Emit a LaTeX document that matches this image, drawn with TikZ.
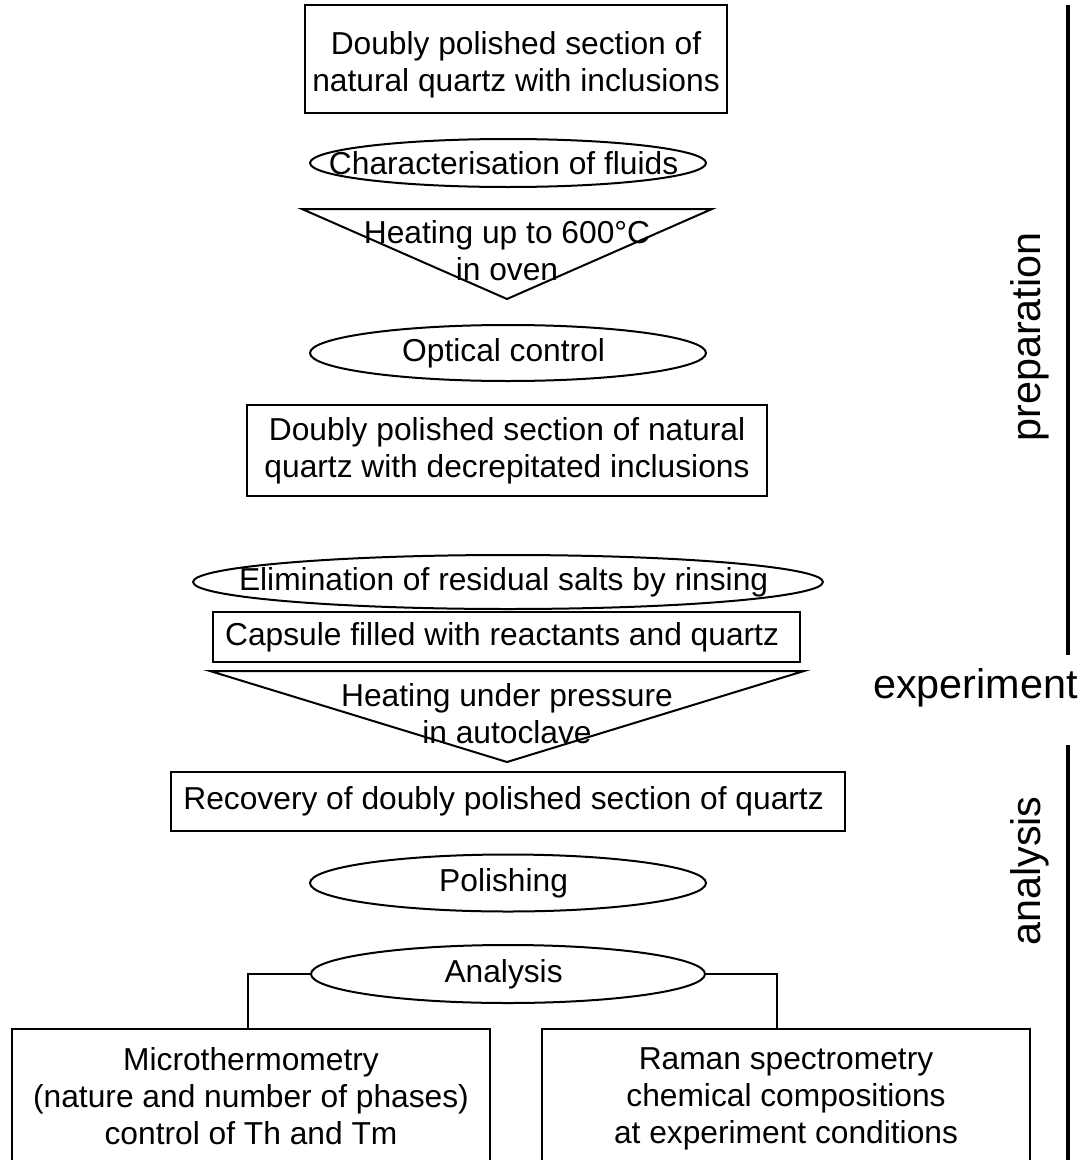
\documentclass[tikz,border=0pt]{standalone}
\usepackage{fontspec}
\setmainfont{Liberation Sans}
\usetikzlibrary{shapes}
\usetikzlibrary{positioning}
\tikzset{flowbox/.style={rectangle,
                        draw,
                        line width=1.5pt,
                        align=center,
                        inner sep=0pt,
                        font=\fontsize{23.8pt}{27.75pt}\selectfont
                        },
        flowoval/.style={ellipse,
                        draw,
                        line width=1.5pt,
                        align=center,
                        inner sep=0pt,
                        minimum width=297pt,
                        font=\fontsize{23.8pt}{27.75pt}\selectfont
        },
        flowtext/.style={align=center,
                        inner sep=0pt,
                        font=\fontsize{23.8pt}{27.75pt}\selectfont
        },
        phaselabel/.style={inner sep=0pt,
                        font=\fontsize{31pt}{34pt}\selectfont
        },
}

\begin{document}
\begin{tikzpicture}
    [x=0.75pt,y=-0.75pt]

    \useasboundingbox (0,0) rectangle (1082,1160);

    % PREPARATION
    \node[flowbox, minimum width=316.5pt, minimum height=81pt] (section) at (516,59) {
        \rule{0pt}{26pt}Doubly polished section of\\ natural quartz with inclusions
    };

    \node[flowoval, minimum height=36pt] (fluids) at (508,163) {
        \makebox[0pt]{Characterisation of fluids}
    };

    \draw[line width=1.5pt, line join=miter] (302,209) coordinate (ovenL) -- (712,209) coordinate (ovenR)
        -- (507,299) coordinate (ovenT) -- cycle;
    \node[flowtext] (oven) at (507,251) {Heating up to 600°C\\ in oven};

    \node[flowoval, minimum height=42pt] (optical) at (508,353) {
        \makebox[0pt]{Optical control}
    };

    \node[flowbox, minimum width=390pt, minimum height=68.25pt] (decrep) at (507,450.5) {
        Doubly polished section of natural\\ quartz with decrepitated inclusions
    };

    \node[flowoval, minimum width=472.5pt, minimum height=40.5pt] (rinsing) at (508,582) {
        \makebox[0pt]{Elimination of residual salts by rinsing}
    };

    \node[flowbox, minimum width=440.25pt, minimum height=37.5pt] (capsule) at (506.5,637) {
        Capsule filled with reactants and quartz
    };

    % EXPERIMENT
    \draw[line width=1.5pt, line join=miter] (210,671) coordinate (autoL) -- (804,671) coordinate (autoR)
        -- (507,762) coordinate (autoT) -- cycle;
    \node[flowtext] (autoclave) at (507,714) {Heating under pressure\\ in autoclave};

    % ANALYSIS
    \node[flowbox, minimum width=505.5pt, minimum height=44.25pt] (recovery) at (508,801.5) {
        Recovery of doubly polished section of quartz
    };

    \node[flowoval, minimum height=42.75pt] (polishing) at (508,883) {
        \makebox[0pt]{Polishing}
    };

    \node[flowoval, minimum width=295.5pt, minimum height=43.5pt] (analysis) at (508,974) {
        \makebox[0pt]{Analysis}
    };

    \node[flowbox, anchor=north, minimum width=358.5pt, minimum height=100.5pt] (micro) at (251,1028) {
        Microthermometry\\ (nature and number of phases)\\ control of Th and Tm
    };

    \node[flowbox, anchor=north, minimum width=366pt, minimum height=100.5pt] (raman) at (786,1028) {
        \rule{0pt}{21pt}Raman spectrometry\\ chemical compositions\\ at experiment conditions
    };

    \draw[line width=1.5pt] (analysis.west) -| ([xshift=-2.25pt]micro.north);
    \draw[line width=1.5pt] (analysis.east) -| ([xshift=-6.75pt]raman.north);

    % PHASES
    \draw[line width=3pt] (1068,5) -- (1068,655);
    \draw[line width=3pt] (1068,745) -- (1068,1165);

    \node[phaselabel, rotate=90] (prep) at (1030,337) {preparation};
    \node[phaselabel, anchor=base east] (exper) at (1078,698) {experiment};
    \node[phaselabel, rotate=90] (anal) at (1030,871) {analysis};

\end{tikzpicture}
\end{document}
